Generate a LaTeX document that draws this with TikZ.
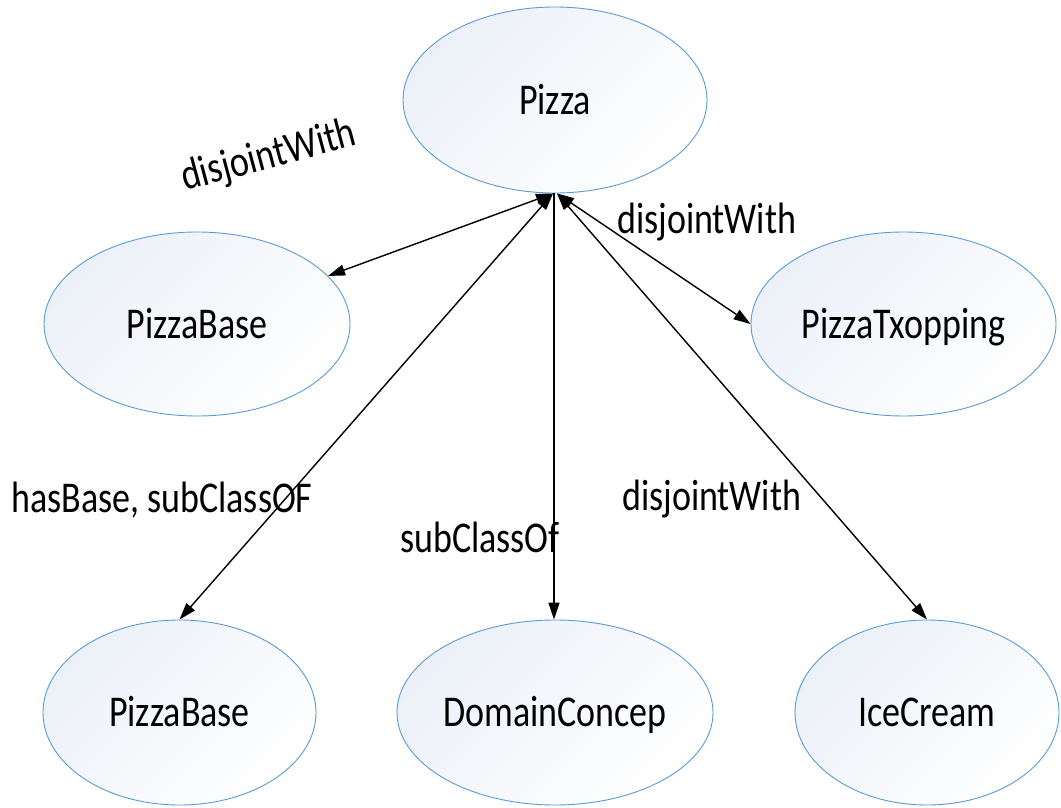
\documentclass[tikz,border=0pt]{standalone}
\usepackage{fontspec}
\setmainfont{Carlito}
\usepackage{graphicx}
\usetikzlibrary{arrows.meta,shapes.geometric}
\definecolor{ellline}{RGB}{91,155,213}
\definecolor{ellfill}{RGB}{236,240,248}
% taller-than-wide lettering
\newcommand{\tallt}[1]{\scalebox{1}[1.22]{#1}}
\begin{document}
\begin{tikzpicture}[x=1pt,y=-1pt,
  cls/.style={ellipse, draw=ellline, line width=0.9pt,
    top color=ellfill, bottom color=white, shading angle=45,
    inner sep=0pt, font=\fontsize{36}{43}\selectfont,
    text height=28pt, text depth=0pt},
  tip/.tip={Triangle[length=17pt,width=11pt]},
  rel/.style={line width=1.4pt, tip-tip},
  onedir/.style={line width=1.4pt, -tip},
  lbl/.style={inner sep=0pt, font=\fontsize{36}{43}\selectfont}
]
\useasboundingbox (0,0) rectangle (1061,808);

% classes
\node[cls, minimum width=304pt, minimum height=186pt] (pizza) at (555,100) {\tallt{Pizza}};
\node[cls, minimum width=306pt, minimum height=184pt] (pb1) at (197,324) {\tallt{PizzaBase}};
\node[cls, minimum width=305pt, minimum height=184pt] (ptop) at (903.5,324) {\tallt{PizzaTxopping}};
\node[cls, minimum width=273pt, minimum height=185pt] (pb2) at (179.5,712.5) {\tallt{PizzaBase}};
\node[cls, minimum width=304pt, minimum height=185pt] (dc) at (555,712.5) {\tallt{DomainConcep}};
\node[cls, minimum width=264pt, minimum height=185pt] (ic) at (927,712.5) {\tallt{IceCream}};

% relations
\draw[rel] ([xshift=-2pt]pizza.south) -- (pb1);
\draw[rel] ([xshift=2pt]pizza.south) -- (ptop.west);
\draw[rel] ([xshift=-2pt]pizza.south) -- (pb2.north);
\draw[onedir] ([xshift=-1pt]pizza.south) -- ([xshift=-1pt]dc.north);
\draw[rel] ([xshift=2pt]pizza.south) -- (ic.north);

% relation labels
\node[lbl, anchor=base west, rotate=15] (l1) at (185,191) {\tallt{disjointWith}};
\node[lbl, anchor=base west] (l2) at (617,233) {\tallt{disjointWith}};
\node[lbl, anchor=base west] (l3) at (11,512) {\tallt{hasBase, subClassOF}};
\node[lbl, anchor=base west] (l4) at (400,552) {\tallt{subClassOf}};
\node[lbl, anchor=base west] (l5) at (622,510) {\tallt{disjointWith}};
\end{tikzpicture}
\end{document}
